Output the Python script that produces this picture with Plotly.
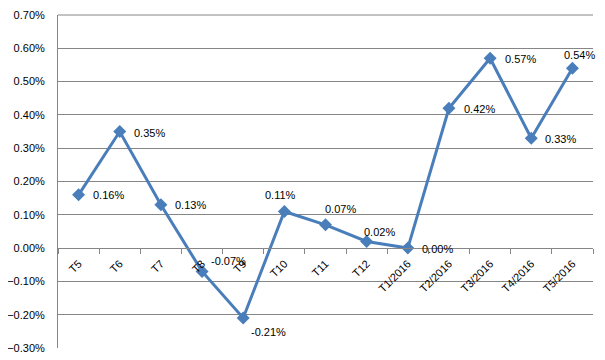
import plotly.graph_objects as go

categories = ["T5", "T6", "T7", "T8", "T9", "T10", "T11", "T12",
              "T1/2016", "T2/2016", "T3/2016", "T4/2016", "T5/2016"]
values = [0.0016, 0.0035, 0.0013, -0.0007, -0.0021, 0.0011, 0.0007, 0.0002,
          0.0000, 0.0042, 0.0057, 0.0033, 0.0054]
y_ticks = [-0.003, -0.002, -0.001, 0.0, 0.001, 0.002, 0.003, 0.004, 0.005, 0.006, 0.007]

# label offsets (pixels) relative to each point: (xanchor, xshift, yshift)
label_offsets = [("left", 12, 0), ("left", 12, -1), ("left", 12, 0), ("left", 7, 10),
                 ("left", 6, -14), ("center", -4, 16), ("left", -3, 16), ("left", -5, 9),
                 ("left", 12, -1), ("left", 13, -1), ("left", 13, -1), ("left", 12, -1),
                 ("left", -10, 13)]

labels = [f"{v*100:.2f}%" for v in values]
FONT = "Liberation Sans"
GRID = "#868686"

fig = go.Figure()
fig.add_trace(go.Scatter(
    x=categories, y=values, mode="lines+markers",
    line=dict(color="#4A7EBB", width=3),
    marker=dict(symbol="diamond", size=10, color="#4A7EBB"),
    cliponaxis=False, hoverinfo="skip",
))

for c, v, t, (xa, xs, ys) in zip(categories, values, labels, label_offsets):
    fig.add_annotation(x=c, y=v, text=t, showarrow=False, xanchor=xa, yanchor="middle",
                       xshift=xs, yshift=ys,
                       font=dict(family=FONT, size=11, color="#000000"))

ymin, ymax = -0.003, 0.007

# top grid line at the upper edge of the plot area (paper-referenced, not clipped)
fig.add_shape(type="line", xref="paper", yref="paper", x0=0, x1=1, y0=1, y1=1,
              line=dict(color=GRID, width=1), layer="above")

# page body has an 8px margin, so the figure is offset by 8px
fig.update_layout(
    width=597, height=352,
    margin=dict(l=50, r=12, t=7, b=12),
    plot_bgcolor="white", paper_bgcolor="white",
    showlegend=False,
    font=dict(family=FONT, size=11, color="#000000"),
    xaxis=dict(
        type="category", range=[-0.5, len(categories) - 0.5],
        anchor="free", position=(0 - ymin) / (ymax - ymin), automargin=False,
        showline=True, linecolor=GRID, linewidth=1,
        ticks="outside", tickson="boundaries", ticklen=5, tickcolor=GRID,
        tickangle=-45, showgrid=False, zeroline=False, ticklabelstandoff=4,
        tickfont=dict(family=FONT, size=11, color="#000000"),
    ),
    yaxis=dict(
        range=[ymin, ymax], tickvals=y_ticks, tickformat=".2%", automargin=False,
        ticklabeloverflow="allow",
        showgrid=True, gridcolor=GRID, gridwidth=1,
        showline=True, linecolor=GRID, linewidth=1,
        zeroline=False, ticks="", ticklabelstandoff=10,
        tickfont=dict(family=FONT, size=11, color="#000000"),
    ),
)

fig.write_html("out.html")
